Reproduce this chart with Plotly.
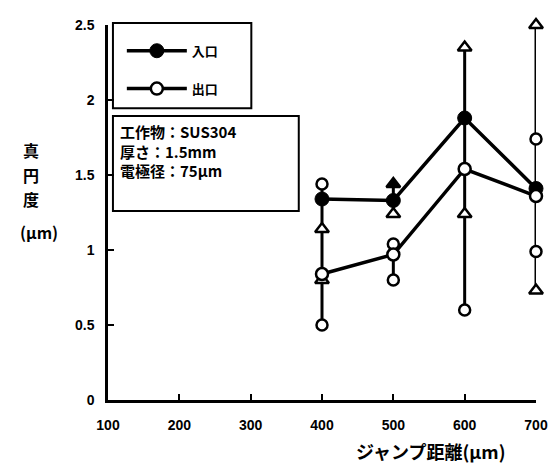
import plotly.graph_objects as go

# ---- data ----
jump = [400, 500, 600, 700]
inlet = [1.34, 1.33, 1.88, 1.41]
outlet = [0.84, 0.97, 1.54, 1.36]

seg_x = [400, 500, 500, 600, 700]
seg_top = [1.44, 1.44, 1.04, 2.35, 2.50]
seg_bottom = [0.50, 1.24, 0.80, 0.60, 0.73]

circ_x = [400, 400, 500, 500, 600, 700, 700]
circ_y = [1.44, 0.50, 1.04, 0.80, 0.60, 1.74, 0.99]

tri_x = [400, 400, 500, 500, 600, 600, 700, 700]
tri_y = [1.14, 0.80, 1.44, 1.24, 2.35, 1.24, 2.50, 0.73]
tri_filled = [False, False, True, False, False, False, False, False]

x_ticks = [100, 200, 300, 400, 500, 600, 700]
y_ticks = [0, 0.5, 1, 1.5, 2, 2.5]

CJK = "Noto Sans CJK JP"
SANS = "Liberation Sans"

fig = go.Figure()

# vertical range lines
lx, ly = [], []
for xv, t, b in zip(seg_x, seg_top, seg_bottom):
    lx += [xv, xv, None]
    ly += [t, b, None]
fig.add_trace(go.Scatter(x=lx, y=ly, mode="lines", line=dict(color="black", width=3),
                         showlegend=False, hoverinfo="skip", cliponaxis=False))

fig.add_trace(go.Scatter(x=tri_x, y=tri_y, mode="markers", showlegend=False, cliponaxis=False,
                         marker=dict(symbol="triangle-up", size=12,
                                     color=["black" if f else "white" for f in tri_filled],
                                     line=dict(color="black", width=2.5))))
fig.add_trace(go.Scatter(x=circ_x, y=circ_y, mode="markers", showlegend=False, cliponaxis=False,
                         marker=dict(symbol="circle", size=11, color="white",
                                     line=dict(color="black", width=2.5))))

fig.add_trace(go.Scatter(x=jump, y=inlet, mode="lines+markers", name="入口", legendgroup="a",
                         cliponaxis=False,
                         line=dict(color="black", width=3.5),
                         marker=dict(symbol="circle", size=14, color="black",
                                     line=dict(color="black", width=1))))
fig.add_trace(go.Scatter(x=jump, y=outlet, mode="lines+markers", name="出口", legendgroup="b",
                         cliponaxis=False,
                         line=dict(color="black", width=3.5),
                         marker=dict(symbol="circle", size=12, color="white",
                                     line=dict(color="black", width=2.5))))

OFF = 8  # page body margin
W, H = 557 - OFF, 466 - OFF
L, R, T, B = 108 - OFF, 16, 17 - OFF, 66
pw, ph = W - L - R, H - T - B


def px(x):
    return (x - OFF - L) / pw


def py(y):
    return (H - B - (y - OFF)) / ph


shapes = [
    dict(type="rect", xref="paper", yref="paper", x0=px(113), x1=px(253), y0=py(102), y1=py(15),
         line=dict(color="black", width=2), fillcolor="white", layer="below"),
    dict(type="rect", xref="paper", yref="paper", x0=px(113), x1=px(301), y0=py(207), y1=py(110),
         line=dict(color="black", width=2), fillcolor="white", layer="below"),
]

annotations = [
    dict(text="工作物：SUS304<br>厚さ：1.5mm<br>電極径：75μm", xref="paper", yref="paper",
         x=px(118), y=py(113), xanchor="left", yanchor="top", align="left", showarrow=False,
         font=dict(family=CJK, size=15, color="black", weight="bold")),
    dict(text="ジャンプ距離(μm)", xref="paper", yref="paper", x=px(434), y=py(452),
         xanchor="center", yanchor="middle", showarrow=False,
         font=dict(family=CJK, size=18, color="black", weight="bold")),
]
for ch, yy, xx in [("真", 145, 30), ("円", 170, 30), ("度", 195, 30), ("(μm)", 228, 38)]:
    annotations.append(dict(text=ch, xref="paper", yref="paper", x=px(xx), y=py(yy),
                            xanchor="center", yanchor="middle", showarrow=False,
                            font=dict(family=CJK, size=16, color="black", weight="bold")))

fig.update_layout(
    width=W, height=H,
    margin=dict(l=L, r=R, t=T, b=B),
    paper_bgcolor="white", plot_bgcolor="white",
    showlegend=True,
    legend=dict(x=px(122), y=py(28), xanchor="left", yanchor="top",
                bgcolor="rgba(0,0,0,0)", borderwidth=0,
                traceorder="grouped", tracegroupgap=18, itemwidth=60,
                font=dict(family=CJK, size=13, color="black", weight="bold")),
    shapes=shapes,
    annotations=annotations,
    xaxis=dict(range=[100, 700], tickvals=x_ticks, ticks="inside", ticklen=6, tickwidth=2,
               tickcolor="black", showline=True, linecolor="black", linewidth=2.5,
               showgrid=False, zeroline=False, ticklabelstandoff=10,
               tickfont=dict(family=SANS, size=14, color="black", weight="bold")),
    yaxis=dict(range=[0, 2.5], tickvals=y_ticks, ticks="inside", ticklen=6, tickwidth=2,
               tickcolor="black", showline=True, linecolor="black", linewidth=2.5,
               showgrid=False, zeroline=False, ticklabelstandoff=8,
               tickfont=dict(family=SANS, size=14, color="black", weight="bold")),
)

fig.write_html("out.html")
